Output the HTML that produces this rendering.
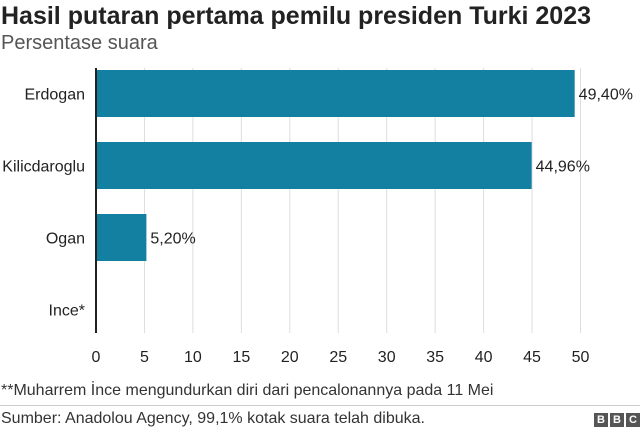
<!DOCTYPE html>
<html><head><meta charset="utf-8"><style>
body{margin:0;width:640px;height:433px;background:#fff;font-family:"Liberation Sans",sans-serif;overflow:hidden;position:relative}
.t{position:absolute;white-space:nowrap}
</style></head><body>
<div class="t" style="left:1px;top:2px;font-size:25px;font-weight:bold;color:#222">Hasil putaran pertama pemilu presiden Turki 2023</div>
<div class="t" style="left:1px;top:32px;font-size:20px;color:#555">Persentase suara</div>
<svg id="chart" width="640" height="380" style="position:absolute;left:0;top:0" font-family="Liberation Sans, sans-serif"></svg>
<div class="t" style="left:1px;top:382px;font-size:16px;color:#333">**Muharrem İnce mengundurkan diri dari pencalonannya pada 11 Mei</div>
<div style="position:absolute;left:0;top:405px;width:640px;height:1px;background:#ccc"></div>
<div class="t" style="left:1px;top:410px;font-size:16px;color:#333">Sumber: Anadolou Agency, 99,1% kotak suara telah dibuka.</div>
<div style="position:absolute;left:594px;top:413px;display:flex;gap:2px">
<span style="width:14px;height:14px;background:#555;color:#fff;font:bold 11px 'Liberation Sans';text-align:center;line-height:14px">B</span>
<span style="width:14px;height:14px;background:#555;color:#fff;font:bold 11px 'Liberation Sans';text-align:center;line-height:14px">B</span>
<span style="width:14px;height:14px;background:#555;color:#fff;font:bold 11px 'Liberation Sans';text-align:center;line-height:14px">C</span>
</div>
<script>
const categories=["Erdogan","Kilicdaroglu","Ogan","Ince*"];
const values=[49.40,44.96,5.20,0];
const valueLabels=["49,40%","44,96%","5,20%",""];
const ticks=[0,5,10,15,20,25,30,35,40,45,50];
const NS="http://www.w3.org/2000/svg";
const svg=document.getElementById('chart');
const x0=96,pxPer=9.69,yTop=68,band=72,barH=47;
const xs=v=>x0+v*pxPer;
const yb=i=>yTop+i*band+2;
function mk(t,a){const e=document.createElementNS(NS,t);for(const k in a)e.setAttribute(k,a[k]);svg.appendChild(e);return e;}
ticks.forEach((t,i)=>{
 if(t>0){const g=mk('line',{x1:xs(t),x2:xs(t),y1:yTop,y2:333,stroke:'#ddd','stroke-width':1});
 
 }
 const l=mk('text',{x:xs(t),y:362,'text-anchor':'middle','font-size':16,fill:'#222'});l.textContent=t;
 
 
});
categories.forEach((c,i)=>{
 const y=yb(i);
 if(values[i]>0){const r=mk('rect',{x:x0,y:y,width:xs(values[i])-x0,height:barH,fill:'#1380A1'});
 
 
 const v=mk('text',{x:xs(values[i])+4,y:y+barH/2+6,'font-size':16,fill:'#222'});v.textContent=valueLabels[i];
 
 }
 const l=mk('text',{x:85,y:y+barH/2+6,'text-anchor':'end','font-size':16,fill:'#222'});l.textContent=c;
 
 
});
const ax=mk('line',{x1:x0,x2:x0,y1:yTop,y2:333,stroke:'#222','stroke-width':2});


</script>
</body></html>
